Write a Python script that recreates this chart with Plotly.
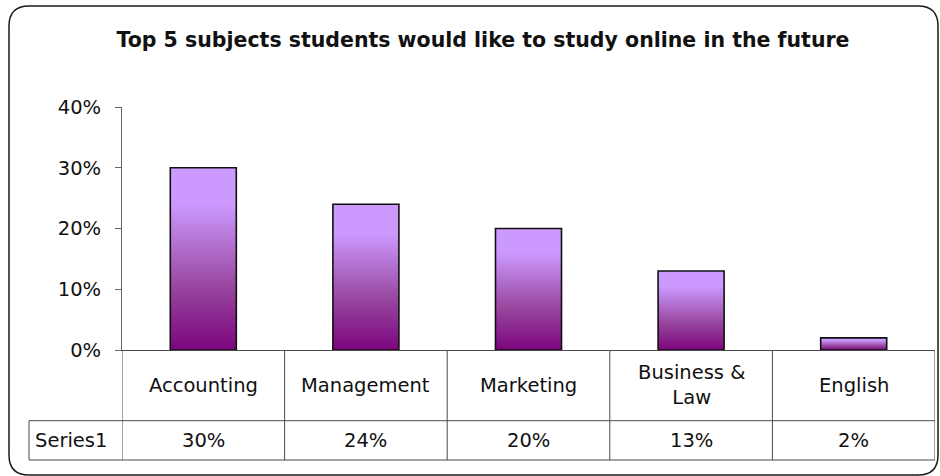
import plotly.graph_objects as go

# Survey results
subjects = ["Accounting", "Management", "Marketing", "Business &<br>Law", "English"]
shares = [0.30, 0.24, 0.20, 0.13, 0.02]
value_labels = ["30%", "24%", "20%", "13%", "2%"]
series_name = "Series1"
y_ticks = [0, 0.1, 0.2, 0.3, 0.4]
y_tick_text = ["0%", "10%", "20%", "30%", "40%"]

W, H = 940, 476
L, R, T, B = 122, 935, 107, 350  # plot area in pixels
BAR_W = 0.406
FONT = "DejaVu Sans"
FS = 19.5
GRID = "#4a4a4a"

def px(x):
    return (x - L) / (R - L)

def py(y):
    return (B - y) / (B - T)

fig = go.Figure()

# gradient-filled columns: light lavender at the top fading to deep purple at the base
scale = [[0, "#7d057f"], [0.35, "#98479f"], [0.8, "#cc99ff"], [1, "#cc99ff"]]
for i, v in enumerate(shares):
    x0, x1 = i - BAR_W / 2, i + BAR_W / 2
    fig.add_trace(go.Scatter(
        x=[x0, x0, x1, x1, x0], y=[0, v, v, 0, 0],
        mode="lines", fill="toself",
        line=dict(color="#111111", width=1.6),
        fillgradient=dict(type="vertical", colorscale=scale, start=0, stop=v),
        hoverinfo="skip", showlegend=False,
    ))

shapes = []
ann = []

# data table under the axis
row1 = 420.7
row2 = 460
n = len(subjects)
for k in range(n + 1):
    shapes.append(dict(type="line", xref="x", yref="paper",
                       x0=k - 0.5, x1=k - 0.5, y0=py(B), y1=py(row2),
                       line=dict(color=GRID, width=1)))
for yy in (row1, row2):
    shapes.append(dict(type="line", xref="paper", yref="paper",
                       x0=px(29), x1=1, y0=py(yy), y1=py(yy),
                       line=dict(color=GRID, width=1)))
shapes.append(dict(type="line", xref="paper", yref="paper",
                   x0=px(29), x1=px(29), y0=py(row1), y1=py(row2),
                   line=dict(color=GRID, width=1)))

for i, (s, lab) in enumerate(zip(subjects, value_labels)):
    ann.append(dict(x=i, y=py((B + row1) / 2), xref="x", yref="paper",
                    text=s, showarrow=False, xanchor="center", yanchor="middle",
                    font=dict(family=FONT, size=FS, color="#111111")))
    ann.append(dict(x=i, y=py((row1 + row2) / 2), xref="x", yref="paper",
                    text=lab, showarrow=False, xanchor="center", yanchor="middle",
                    font=dict(family=FONT, size=FS, color="#111111")))
ann.append(dict(x=px(33), y=py((row1 + row2) / 2), xref="paper", yref="paper",
                text=series_name, showarrow=False, xanchor="left", yanchor="middle",
                font=dict(family=FONT, size=FS, color="#111111")))

# rounded outer frame
bx0, by0, bx1, by1, r = 9, 6, 938, 475, 20
path = (f"M {px(bx0 + r)},{py(by0)} L {px(bx1 - r)},{py(by0)} "
        f"Q {px(bx1)},{py(by0)} {px(bx1)},{py(by0 + r)} "
        f"L {px(bx1)},{py(by1 - r)} Q {px(bx1)},{py(by1)} {px(bx1 - r)},{py(by1)} "
        f"L {px(bx0 + r)},{py(by1)} Q {px(bx0)},{py(by1)} {px(bx0)},{py(by1 - r)} "
        f"L {px(bx0)},{py(by0 + r)} Q {px(bx0)},{py(by0)} {px(bx0 + r)},{py(by0)} Z")
shapes.append(dict(type="path", xref="paper", yref="paper", path=path,
                   line=dict(color="#1a1a1a", width=1.5), layer="below"))

fig.update_layout(
    width=W, height=H,
    margin=dict(l=L, r=W - R, t=T, b=H - B),
    paper_bgcolor="white", plot_bgcolor="white",
    title=dict(text="<b>Top 5 subjects students would like to study online in the future</b>",
               xref="container", x=483 / W, xanchor="center",
               yref="container", y=1 - 40 / H, yanchor="middle",
               font=dict(family=FONT, size=20.5, color="#111111")),
    xaxis=dict(range=[-0.5, n - 0.5], showgrid=False, zeroline=False,
               showticklabels=False, ticks="", showline=True,
               linecolor=GRID, linewidth=1, fixedrange=True),
    yaxis=dict(range=[0, 0.4], tickvals=y_ticks, ticktext=y_tick_text,
               showgrid=False, zeroline=False, showline=True,
               linecolor="#666666", linewidth=1, ticks="outside", ticklen=6,
               tickcolor="#666666", ticklabelstandoff=10,
               tickfont=dict(family=FONT, size=FS, color="#111111"),
               fixedrange=True),
    shapes=shapes, annotations=ann, showlegend=False,
)

fig.write_html("out.html")
